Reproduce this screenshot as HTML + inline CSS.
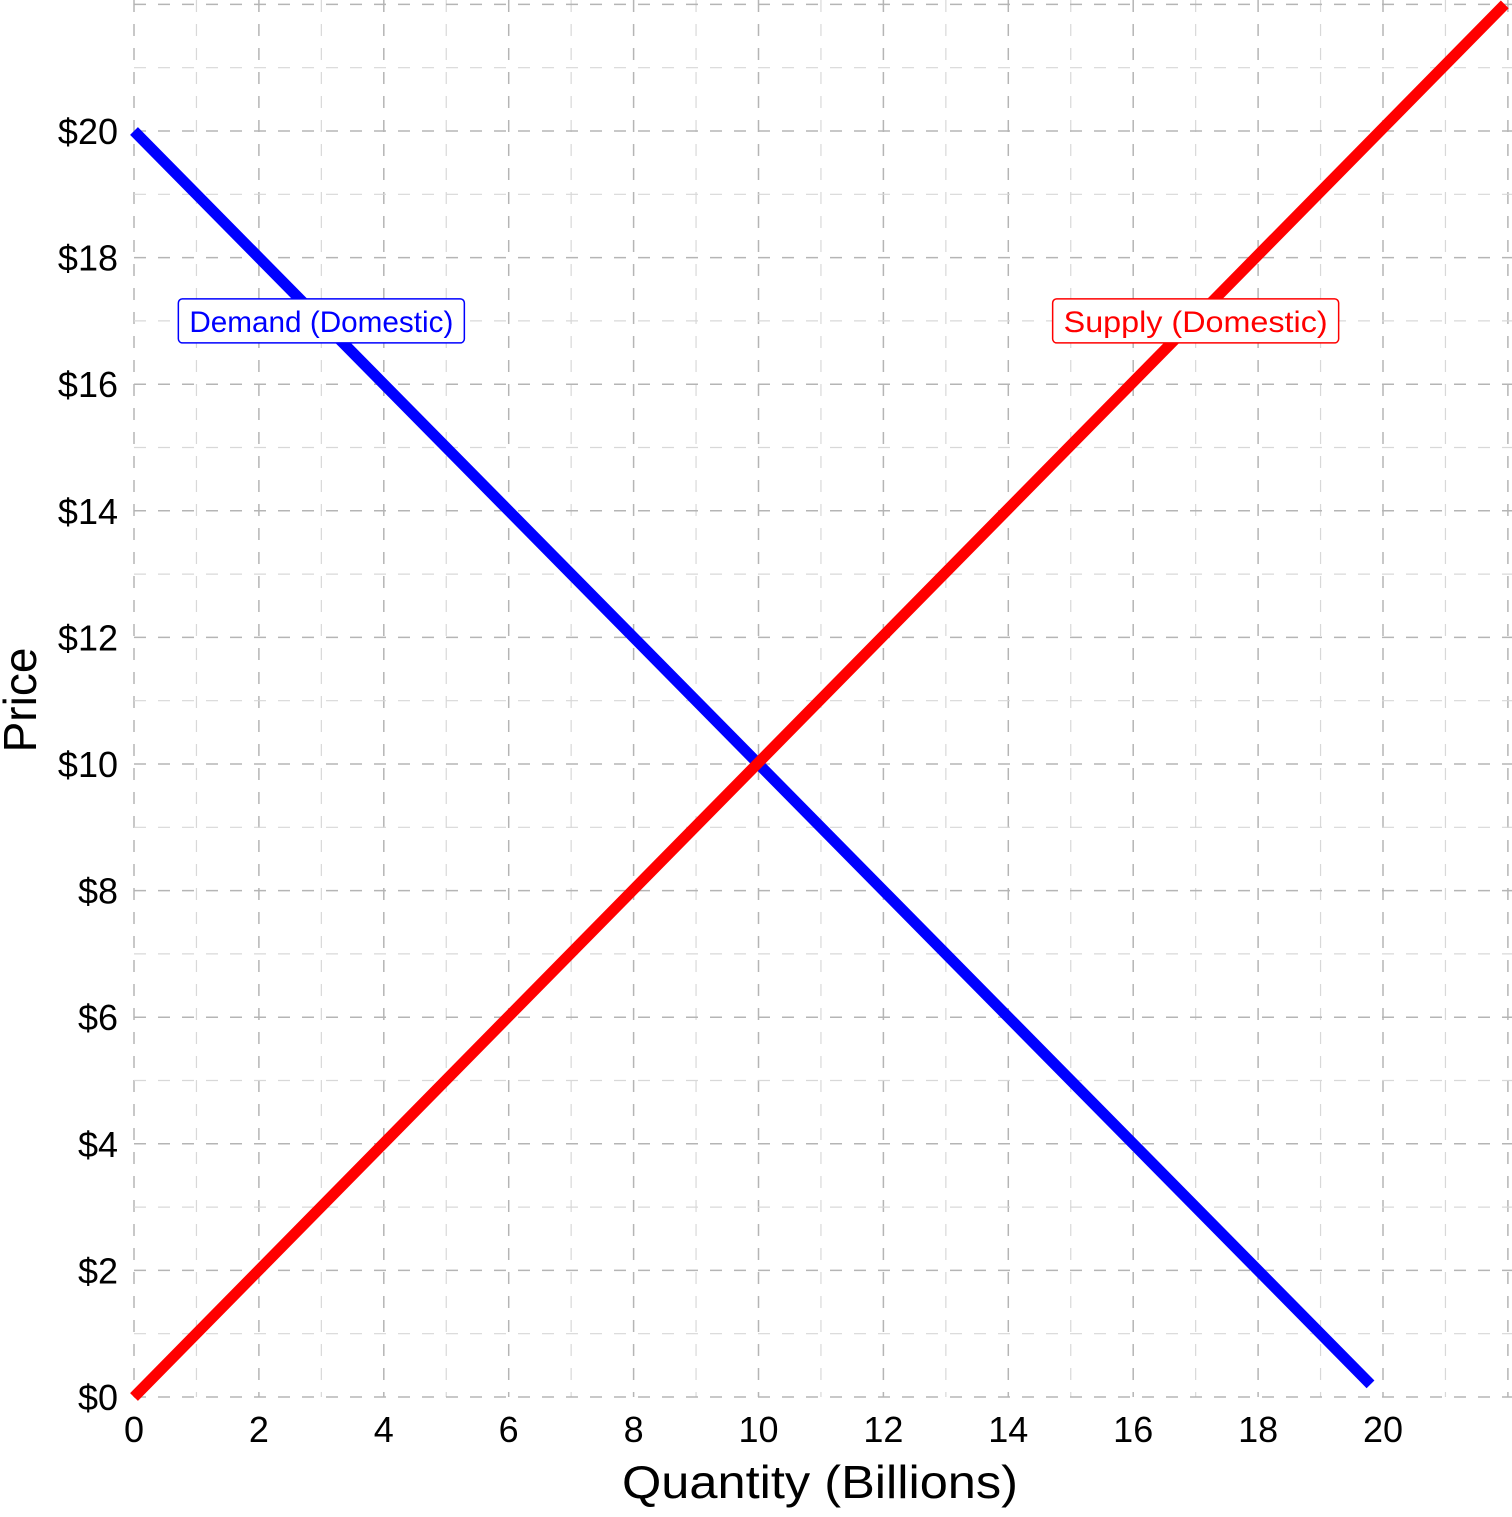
<!DOCTYPE html>
<html><head><meta charset="utf-8"><style>
html,body{margin:0;padding:0;background:#fff;}
svg text{font-family:"Liberation Sans",sans-serif;}
</style></head><body>
<svg id="chart" width="1512" height="1512" viewBox="0 0 1512 1512" xmlns="http://www.w3.org/2000/svg">
<g id="grid"></g>
<g id="series"></g>
<g id="axes"></g>
<text x="820" y="1498" text-anchor="middle" font-size="46" textLength="396" lengthAdjust="spacingAndGlyphs">Quantity (Billions)</text>
<text transform="translate(36,700) rotate(-90)" text-anchor="middle" font-size="46">Price</text>
</svg>
<script>
const xTicks=[0,2,4,6,8,10,12,14,16,18,20];
const yTicks=[0,2,4,6,8,10,12,14,16,18,20];
const demandX=[0,19.8];
const demandY=[20,0.2];
const supplyX=[0,21.95];
const supplyY=[0,22];
const labelNames=["Demand (Domestic)","Supply (Domestic)"];
const labelX=[3,17];
const labelY=[17,17];
const labelColors=["#0000ff","#ff0000"];
const sx=v=>134+v*62.45;
const sy=v=>1397-v*63.3;
const NS="http://www.w3.org/2000/svg";
const grid=document.getElementById('grid'),series=document.getElementById('series'),axes=document.getElementById('axes');
function mk(t,a,p){const e=document.createElementNS(NS,t);for(const k in a)e.setAttribute(k,a[k]);p.appendChild(e);return e;}
for(let v=0;v<=22;v++){
  const major=v%2===0;
  const l=mk('line',{x1:sx(v),x2:sx(v),y1:0,y2:1397,stroke:major?'#b5b5b5':'#d8d8d8','stroke-width':major?1.5:1.2,'stroke-dasharray':'12,12'},grid);
  
  
}
for(let v=0;v<=22;v++){
  const major=v%2===0;
  const l=mk('line',{x1:134,x2:1512,y1:sy(v),y2:sy(v),stroke:major?'#b5b5b5':'#d8d8d8','stroke-width':major?1.5:1.2,'stroke-dasharray':'12,12'},grid);
  
  
}
const d=mk('line',{x1:sx(demandX[0]),y1:sy(demandY[0]),x2:sx(demandX[1]),y2:sy(demandY[1]),stroke:'#0000ff','stroke-width':11},series);


const s=mk('line',{x1:sx(supplyX[0]),y1:sy(supplyY[0]),x2:sx(supplyX[1]),y2:sy(supplyY[1]),stroke:'#ff0000','stroke-width':11},series);


labelNames.forEach((n,i)=>{
  const cx=sx(labelX[i]),cy=sy(labelY[i]);
  const r=mk('rect',{x:cx-143,y:cy-22,width:286,height:44,rx:4,fill:'#fff',stroke:labelColors[i],'stroke-width':1.5},series);
  
  
  const t=mk('text',{x:cx,y:cy+11,'text-anchor':'middle','font-size':30,fill:labelColors[i],textLength:264,lengthAdjust:'spacingAndGlyphs'},series);
  t.textContent=n;
  
  
});
xTicks.forEach(v=>{
  const t=mk('text',{x:sx(v),y:1442,'text-anchor':'middle','font-size':36},axes);
  t.textContent=v;
  
  
});
yTicks.forEach(v=>{
  const t=mk('text',{x:118,y:sy(v)+13,'text-anchor':'end','font-size':36},axes);
  t.textContent='$'+v;
  
  
});
</script>
</body></html>
